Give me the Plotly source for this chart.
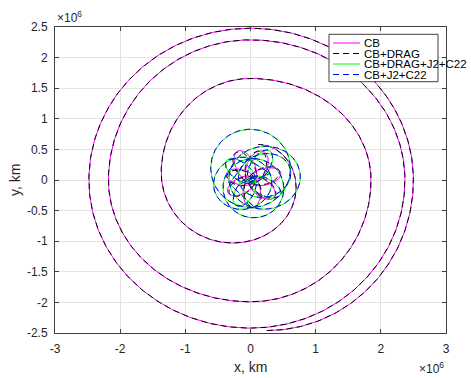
import numpy as np
import plotly.graph_objects as go

# ---------------- data (km) ----------------
# CB / CB+DRAG spiral: successive extreme points (bottom, right, top, left, ...)
spiral_x = [0.25e6, 2.50e6, 0.00e6, -2.48e6, 0.00e6, 2.37e6, 0.00e6, -2.18e6,
            0.00e6, 1.85e6, 0.00e6, -1.37e6, -0.27e6, 0.70e6, 0.12e6]
spiral_y = [-2.46e6, 0.00e6, 2.48e6, 0.00e6, -2.42e6, 0.00e6, 2.29e6, 0.00e6,
            -1.99e6, 0.00e6, 1.66e6, 0.12e6, -1.03e6, -0.12e6, 0.58e6]

# flower (loops around the central body), focus location
focus_x = 0.02e6
focus_y = 0.00e6

# CB petals: apoapsis direction (deg), apoapsis and periapsis distance (km)
cb_dir = [114, 70, 15, -40, -90, -150, 165]
cb_apo = [0.52e6, 0.50e6, 0.46e6, 0.45e6, 0.46e6, 0.42e6, 0.40e6]
cb_peri = [0.04e6, 0.05e6, 0.04e6, 0.04e6, 0.04e6, 0.04e6, 0.04e6]

# CB+DRAG petals
drag_dir = [118, 74, 19, -36, -86, -146, 169]
drag_apo = [0.51e6, 0.49e6, 0.45e6, 0.44e6, 0.45e6, 0.41e6, 0.39e6]
drag_peri = [0.04e6, 0.05e6, 0.04e6, 0.04e6, 0.04e6, 0.04e6, 0.04e6]

# CB+DRAG+J2+C22 loops
dj2_dir = [95, 10, -80, 200, 60, 140, -30, -120, 20]
dj2_apo = [0.83e6, 0.75e6, 0.62e6, 0.60e6, 0.55e6, 0.50e6, 0.50e6, 0.48e6, 0.62e6]
dj2_peri = [0.45e6, 0.35e6, 0.35e6, 0.30e6, 0.04e6, 0.04e6, 0.04e6, 0.04e6, 0.20e6]

# CB+J2+C22 loops
j2_dir = [96, 11, -79, 201, 61, 141, -29, -119, 21]
j2_apo = [0.83e6, 0.75e6, 0.62e6, 0.60e6, 0.55e6, 0.50e6, 0.50e6, 0.48e6, 0.62e6]
j2_peri = [0.45e6, 0.35e6, 0.35e6, 0.30e6, 0.04e6, 0.04e6, 0.04e6, 0.04e6, 0.20e6]

x_ticks = [-3e6, -2e6, -1e6, 0, 1e6, 2e6, 3e6]
x_ticktext = ["-3", "-2", "-1", "0", "1", "2", "3"]
y_ticks = [-2.5e6, -2e6, -1.5e6, -1e6, -0.5e6, 0, 0.5e6, 1e6, 1.5e6, 2e6, 2.5e6]
y_ticktext = ["-2.5", "-2", "-1.5", "-1", "-0.5", "0", "0.5", "1", "1.5", "2", "2.5"]

legend_names = ["CB", "CB+DRAG", "CB+DRAG+J2+C22", "CB+J2+C22"]
legend_colors = ["#FF00FF", "#000000", "#00FF00", "#0000FF"]
legend_dash = ["solid", "6px,4px", "solid", "6px,4px"]


# ---------------- geometry helpers ----------------
def spiral_path(xs, ys, n=90):
    X, Y = [], []
    for i in range(len(xs) - 1):
        x0, y0, x1, y1 = xs[i], ys[i], xs[i + 1], ys[i + 1]
        if i % 2 == 0:      # start has horizontal tangent (top/bottom)
            cx, cy = x0, y1
        else:               # start has vertical tangent (left/right)
            cx, cy = x1, y0
        a = abs(x1 - x0)
        b = abs(y1 - y0)
        th0 = np.arctan2((y0 - cy) / b, (x0 - cx) / a)
        th = th0 + np.linspace(0, np.pi / 2, n)
        X.extend(cx + a * np.cos(th))
        Y.extend(cy + b * np.sin(th))
    return X, Y


def loops(dirs, apos, peris, n=160):
    X, Y = [], []
    for d, ra, rp in zip(dirs, apos, peris):
        e = (ra - rp) / (ra + rp)
        p = 2 * ra * rp / (ra + rp)
        nu = np.linspace(0, 2 * np.pi, n)
        r = p / (1 + e * np.cos(nu))
        w = np.deg2rad(d) + np.pi
        X.extend(focus_x + r * np.cos(nu + w))
        Y.extend(focus_y + r * np.sin(nu + w))
    return X, Y


sx, sy = spiral_path(spiral_x, spiral_y)
cbx, cby = loops(cb_dir, cb_apo, cb_peri)
drx, dry = loops(drag_dir, drag_apo, drag_peri)
cb_x = sx + [None] + cbx
cb_y = sy + [None] + cby
dr_x = sx + [None] + drx
dr_y = sy + [None] + dry
dj_x, dj_y = loops(dj2_dir, dj2_apo, dj2_peri)
j2_x, j2_y = loops(j2_dir, j2_apo, j2_peri)

fig = go.Figure()
series = [(cb_x, cb_y), (dr_x, dr_y), (dj_x, dj_y), (j2_x, j2_y)]
for (xx, yy), name, col, dash in zip(series, legend_names, legend_colors, legend_dash):
    fig.add_trace(go.Scatter(x=xx, y=yy, mode="lines", name=name,
                             line=dict(color=col, width=1, dash=dash),
                             showlegend=False, hoverinfo="skip"))

L, R, T, B = 55, 446, 27, 333
W, H = 471, 378


def px(xp):
    return (xp - L) / (R - L)


def py(yp):
    return (B - yp) / (B - T)


axis_common = dict(showgrid=True, gridcolor="#e3e3e3", gridwidth=1,
                   zeroline=False, showline=True, linecolor="#404040", linewidth=1,
                   mirror="ticks", ticks="inside", ticklen=4, tickcolor="#404040",
                   tickfont=dict(family="Liberation Sans, Arial", size=12, color="#262626"))

fig.update_layout(
    width=W, height=H,
    margin=dict(l=L, r=W - R, t=T, b=H - B),
    paper_bgcolor="white", plot_bgcolor="white",
    showlegend=False,
    xaxis=dict(range=[-3e6, 3e6], tickvals=x_ticks, ticktext=x_ticktext,
               ticklabelstandoff=5, **axis_common),
    yaxis=dict(range=[-2.5e6, 2.5e6], tickvals=y_ticks, ticktext=y_ticktext,
               ticklabelstandoff=4, **axis_common),
)

shapes = []
annotations = []
font_txt = dict(family="Liberation Sans, Arial", color="#262626")

# legend box
shapes.append(dict(type="rect", xref="paper", yref="paper",
                   x0=px(329), x1=px(438), y0=py(81.7), y1=py(34.3),
                   fillcolor="white", line=dict(color="#404040", width=1), layer="above"))
rows = [43.0, 53.5, 64.0, 74.5]
for name, col, dash, ry in zip(legend_names, legend_colors, legend_dash, rows):
    shapes.append(dict(type="line", xref="paper", yref="paper",
                       x0=px(333), x1=px(360), y0=py(ry), y1=py(ry),
                       line=dict(color=col, width=1, dash=dash), layer="above"))
    annotations.append(dict(x=px(362), y=py(ry), xref="paper", yref="paper",
                            text=name, showarrow=False, xanchor="left", yanchor="middle",
                            font=dict(family="Liberation Sans, Arial", size=11.5, color="#000000")))

# exponent labels
annotations.append(dict(x=0, y=1, xref="paper", yref="paper", text="×10<sup>6</sup>",
                        showarrow=False, xanchor="left", yanchor="bottom",
                        font=dict(size=12, **font_txt)))
annotations.append(dict(x=1, y=py(368), xref="paper", yref="paper", text="×10<sup>6</sup>",
                        showarrow=False, xanchor="right", yanchor="middle",
                        font=dict(size=12, **font_txt)))
# axis titles
annotations.append(dict(x=0.5, y=py(366.5), xref="paper", yref="paper", text="x, km",
                        showarrow=False, xanchor="center", yanchor="middle",
                        font=dict(size=14, **font_txt)))
annotations.append(dict(x=px(15), y=0.5, xref="paper", yref="paper", text="y, km",
                        showarrow=False, xanchor="center", yanchor="middle", textangle=-90,
                        font=dict(size=14, **font_txt)))

fig.update_layout(shapes=shapes, annotations=annotations)
fig.write_html("out.html", config={"displayModeBar": False},
               post_script="document.body.style.margin='0';document.body.style.overflow='hidden';")
